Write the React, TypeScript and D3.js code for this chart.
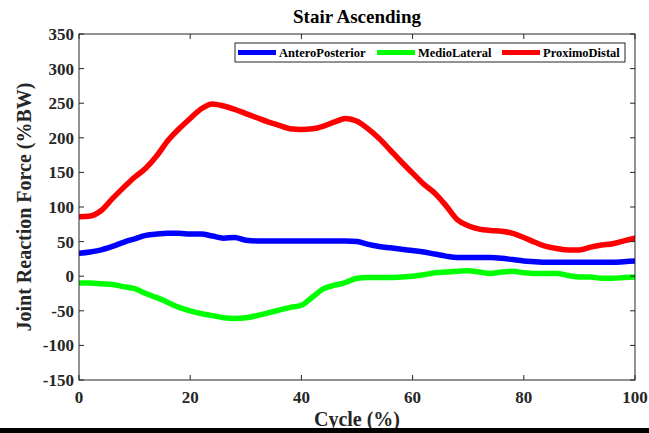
import React from "react";
import * as d3 from "d3";

const cycle = d3.range(0, 101, 2);
const anteroPosterior = [33, 35, 38, 43, 49, 54, 59, 61, 62, 62, 61, 61, 58, 55, 56, 52, 51, 51, 51, 51, 51, 51, 51, 51, 51, 50, 46, 43, 41, 39, 37, 35, 32, 29, 27, 27, 27, 27, 26, 24, 22, 21, 20, 20, 20, 20, 20, 20, 20, 21, 22];
const medioLateral = [-10, -10, -11, -12, -15, -18, -25, -31, -38, -45, -50, -54, -57, -60, -61, -60, -57, -53, -49, -45, -42, -30, -18, -13, -9, -3, -2, -2, -2, -1, 0, 2, 5, 6, 7, 8, 6, 4, 6, 7, 5, 4, 4, 4, 1, -1, -1, -3, -3, -2, -1];
const proximoDistal = [86, 87, 95, 112, 128, 143, 156, 174, 196, 213, 228, 242, 249, 246, 241, 235, 229, 223, 218, 213, 212, 213, 217, 223, 228, 224, 213, 199, 182, 165, 149, 133, 120, 102, 82, 73, 68, 66, 65, 62, 56, 49, 43, 40, 38, 38, 42, 45, 47, 51, 55];

const seriesNames = ["AnteroPosterior", "MedioLateral", "ProximoDistal"];
const seriesColors = ["#0000ff", "#00ff00", "#ff0000"];
const seriesValues = [anteroPosterior, medioLateral, proximoDistal];

const xTicks = [0, 20, 40, 60, 80, 100];
const yTicks = [-150, -100, -50, 0, 50, 100, 150, 200, 250, 300, 350];

const W = 649;
const H = 433;
const left = 79;
const right = 635;
const top = 34;
const bottom = 380;

export default function App() {
  const x = d3.scaleLinear().domain([0, 100]).range([left, right]);
  const y = d3.scaleLinear().domain([-150, 350]).range([bottom, top]);
  const line = d3
    .line<number>()
    .x((_, i) => x(cycle[i]))
    .y((d) => y(d))
    .curve(d3.curveMonotoneX);
  const axisColor = "#262626";
  const font = "'Liberation Serif', 'Times New Roman', serif";
  const tickLen = 5;
  const legendX = [238, 377, 502];

  return (
    <div style={{ position: "fixed", left: 0, top: 0, width: W, height: H, background: "#fff" }}>
      <svg width={W} height={H} style={{ display: "block" }} fontFamily={font}>
        <rect x={0} y={0} width={W} height={H} fill="#fff" />
        <defs>
          <clipPath id="plotclip">
            <rect x={left} y={top} width={right - left} height={bottom - top} />
          </clipPath>
        </defs>
        <g clipPath="url(#plotclip)">
          {seriesValues.map((vals, k) => (
            <path
              key={k}
              d={line(vals) || ""}
              fill="none"
              stroke={seriesColors[k]}
              strokeWidth={5.5}
              strokeLinejoin="round"
              strokeLinecap="round"
            />
          ))}
        </g>
        {/* box */}
        <rect x={left} y={top} width={right - left} height={bottom - top} fill="none" stroke={axisColor} strokeWidth={1} />
        {xTicks.map((t) => (
          <g key={"xt" + t}>
            <line x1={x(t)} x2={x(t)} y1={bottom} y2={bottom - tickLen} stroke={axisColor} />
            <line x1={x(t)} x2={x(t)} y1={top} y2={top + tickLen} stroke={axisColor} />
            <text x={x(t)} y={403} textAnchor="middle" fontSize={17} fontWeight="bold" fill="#262626">
              {t}
            </text>
          </g>
        ))}
        {yTicks.map((t) => (
          <g key={"yt" + t}>
            <line x1={left} x2={left + tickLen} y1={y(t)} y2={y(t)} stroke={axisColor} />
            <line x1={right} x2={right - tickLen} y1={y(t)} y2={y(t)} stroke={axisColor} />
            <text x={74} y={y(t)} dy="0.35em" textAnchor="end" fontSize={17} fontWeight="bold" fill="#262626">
              {t}
            </text>
          </g>
        ))}
        <text x={357} y={23} textAnchor="middle" fontSize={19} fontWeight="bold" fill="#000">
          Stair Ascending
        </text>
        <text x={357} y={426} textAnchor="middle" fontSize={20} fontWeight="bold" fill="#262626">
          Cycle (%)
        </text>
        <text
          transform={`translate(31, ${(top + bottom) / 2}) rotate(-90)`}
          textAnchor="middle"
          fontSize={20}
          fontWeight="bold"
          fill="#262626"
        >
          Joint Reaction Force (%BW)
        </text>
        {/* legend */}
        <rect x={235} y={43} width={390} height={19} fill="#fff" stroke={axisColor} strokeWidth={1} />
        {seriesNames.map((name, k) => (
          <g key={name}>
            <line x1={legendX[k]} x2={legendX[k] + 38} y1={52.5} y2={52.5} stroke={seriesColors[k]} strokeWidth={5} />
            <text x={legendX[k] + 41} y={57} fontSize={12.5} fontWeight="bold" fill="#000">
              {name}
            </text>
          </g>
        ))}
        <rect x={0} y={428} width={W} height={H - 428} fill="#000" />
      </svg>
    </div>
  );
}
